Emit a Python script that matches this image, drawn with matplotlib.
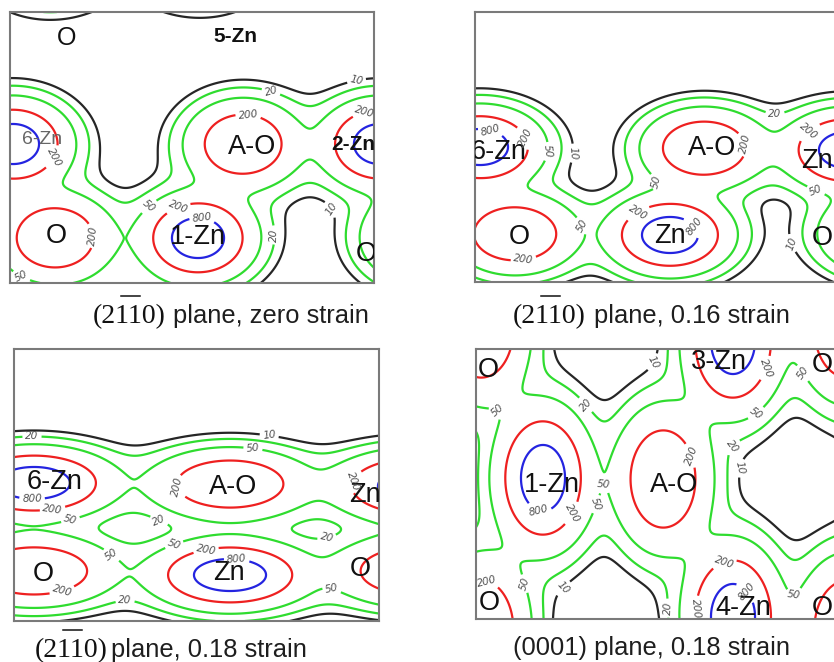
import numpy as np
import matplotlib
matplotlib.use("Agg")
import matplotlib.pyplot as plt
from matplotlib.lines import Line2D
from matplotlib.font_manager import FontProperties

# ---- contour levels (charge density) ----
LEVELS = [10, 20, 50, 200, 800]
LEVEL_COLORS = ['#262626', '#2fdc2f', '#2fdc2f', '#ee2020', '#2424e0']

# ---- radial density profile per species: peak, decay length, core flattening ----
SPECIES_PEAK = {'Zn': 3800.0, 'O': 700.0}
SPECIES_DECAY = {'Zn': 10.0, 'O': 9.0}
SPECIES_CORE = {'Zn': 5.0, 'O': 32.0}

# ---- panel 1: (2-1-10) plane, zero strain ----
P1_SPECIES = ['Zn', 'O', 'Zn', 'O', 'Zn', 'O', 'O', 'Zn', 'Zn', 'O']
P1_X = [3, 233, 370, 45, 188, 410, -134, 40, 190, 116]
P1_Y = [132, 132, 132, 226, 226, 226, 132, -58, -60, 335]
P1_STRETCH = (1.3, 1.0)
P1_HALO = (4.0, 45.0)
P1_ATOM_TEXT = ['O', '5-Zn', '6-Zn', 'A-O', '2-Zn', 'O', '1-Zn', 'O']
P1_ATOM_X = [57, 225, 32, 242, 343, 46, 188, 356]
P1_ATOM_Y = [26, 25, 128, 135, 133, 224, 225, 242]
P1_LABEL_POS = [(347, 71), (260, 83), (238, 105), (355, 101), (43, 145), (142, 198),
                (168, 195), (192, 207), (88, 223), (263, 223), (327, 193), (12, 263)]

# ---- panel 2: (2-1-10) plane, 0.16 strain ----
P2_SPECIES = ['Zn', 'O', 'Zn', 'O', 'Zn', 'O', 'O', 'Zn', 'Zn']
P2_X = [5, 229, 372, 40, 195, 407, -138, 5, 215]
P2_Y = [135, 136, 138, 222, 223, 222, 136, -60, -63]
P2_STRETCH = (1.4, 0.9)
P2_HALO = (2.5, 45.0)
P2_ATOM_TEXT = ['6-Zn', 'A-O', 'Zn', 'O', 'Zn', 'O']
P2_ATOM_X = [24, 237, 342, 44, 195, 347]
P2_ATOM_Y = [140, 136, 149, 225, 224, 226]
P2_LABEL_POS = [(15, 121), (55, 123), (76, 140), (117, 143), (300, 103), (275, 131),
                (337, 123), (185, 168), (342, 176), (113, 210), (163, 201), (222, 212),
                (48, 244), (312, 233)]

# ---- panel 3: (2-1-10) plane, 0.18 strain ----
P3_SPECIES = ['Zn', 'O', 'Zn', 'O', 'Zn', 'O', 'O', 'Zn']
P3_X = [20, 216, 400, 20, 216, 400, -164, -164]
P3_Y = [134, 135, 137, 222, 226, 222, 135, 226]
P3_STRETCH = (1.8, 0.8)
P3_HALO = (2.5, 50.0)
P3_ATOM_TEXT = ['6-Zn', 'A-O', 'Zn', 'O', 'Zn', 'O']
P3_ATOM_X = [41, 219, 351, 29, 215, 346]
P3_ATOM_Y = [133, 138, 146, 225, 224, 220]
P3_LABEL_POS = [(18, 88), (256, 81), (239, 99), (328, 127), (163, 138), (18, 153),
                (39, 163), (56, 169), (144, 174), (314, 194), (161, 198), (191, 196),
                (223, 207), (96, 208), (321, 227), (49, 245), (111, 249)]

# ---- panel 4: (0001) plane, 0.18 strain ----
P4_SPECIES = ['Zn', 'Zn', 'Zn', 'Zn', 'Zn', 'Zn', 'O', 'O', 'O', 'O', 'O', 'O', 'O']
P4_X = [67, 257, 257, 447, -123, -123, 187, 5, 5, 371, 371, -193, 563]
P4_Y = [129, -8, 268, 129, -8, 268, 130, -20, 280, -20, 280, 130, 130]
P4_STRETCH = (1.1, 1.65)
P4_HALO = (3.0, 45.0)
P4_ATOM_TEXT = ['O', '3-Zn', 'O', '1-Zn', 'A-O', 'O', '4-Zn', 'O']
P4_ATOM_X = [12, 243, 346, 76, 198, 13, 267, 346]
P4_ATOM_Y = [21, 13, 16, 136, 136, 254, 259, 259]
P4_LABEL_POS = [(177, 13), (24, 59), (106, 59), (287, 18), (327, 24), (274, 56),
                (252, 94), (264, 119), (216, 106), (129, 131), (117, 154), (62, 166),
                (99, 166), (244, 201), (12, 228), (44, 236), (84, 236), (269, 244),
                (196, 259), (217, 259), (321, 259)]

FIG_W, FIG_H = 834, 662


def density(species, xs, ys, stretch, halo, X, Y):
    sx, sy = stretch
    h_amp, h_w = halo
    rho = np.zeros_like(X)
    for sp, x0, y0 in zip(species, xs, ys):
        d = np.hypot((X - x0) / sx, (Y - y0) / sy)
        c = SPECIES_CORE[sp]
        rho += SPECIES_PEAK[sp] * np.exp(-(np.sqrt(d ** 2 + c ** 2) - c) / SPECIES_DECAY[sp])
        rho += h_amp * np.exp(-0.5 * (d / h_w) ** 2)
    return rho


def panel(fig, box, species, xs, ys, stretch, halo, texts, tx, ty, label_pos,
          text_styles=None):
    left, top, w, h = box
    ax = fig.add_axes([left / FIG_W, 1 - (top + h) / FIG_H, w / FIG_W, h / FIG_H])
    gx = np.arange(0, w + 1, 1.0)
    gy = np.arange(0, h + 1, 1.0)
    X, Y = np.meshgrid(gx, gy)
    Z = density(species, xs, ys, stretch, halo, X, Y)
    cs = ax.contour(X, Y, Z, levels=LEVELS, colors=LEVEL_COLORS, linewidths=1.6)
    labels = ax.clabel(cs, LEVELS, manual=label_pos, inline=True, inline_spacing=3,
                       fmt='%d', fontsize=7.5, colors='#505050')
    for t in labels:
        t.set_fontstyle('italic')
    for i, (s, x, y) in enumerate(zip(texts, tx, ty)):
        kw = dict(fontsize=19.5, color='#111111', family='Liberation Sans')
        if text_styles and i in text_styles:
            kw.update(text_styles[i])
        ax.text(x, y, s, ha='center', va='center', clip_on=True, **kw)
    ax.set_xlim(0, w)
    ax.set_ylim(h, 0)
    ax.set_xticks([])
    ax.set_yticks([])
    for sp in ax.spines.values():
        sp.set_color('#7a7a7a')
        sp.set_linewidth(1.5)
    return ax


fig = plt.figure(figsize=(FIG_W / 100, FIG_H / 100), dpi=100)
fig.patch.set_facecolor('white')

panel(fig, (10, 12, 364, 271), P1_SPECIES, P1_X, P1_Y, P1_STRETCH, P1_HALO,
      P1_ATOM_TEXT, P1_ATOM_X, P1_ATOM_Y, P1_LABEL_POS,
      text_styles={0: dict(fontsize=18), 1: dict(fontsize=15, fontweight='bold'),
                   2: dict(fontsize=14, color='#666666'),
                   4: dict(fontsize=15, fontweight='bold')})
panel(fig, (475, 12, 364, 270), P2_SPECIES, P2_X, P2_Y, P2_STRETCH, P2_HALO,
      P2_ATOM_TEXT, P2_ATOM_X, P2_ATOM_Y, P2_LABEL_POS)
panel(fig, (14, 349, 365, 272), P3_SPECIES, P3_X, P3_Y, P3_STRETCH, P3_HALO,
      P3_ATOM_TEXT, P3_ATOM_X, P3_ATOM_Y, P3_LABEL_POS)
panel(fig, (476, 349, 364, 270), P4_SPECIES, P4_X, P4_Y, P4_STRETCH, P4_HALO,
      P4_ATOM_TEXT, P4_ATOM_X, P4_ATOM_Y, P4_LABEL_POS)

# ---- captions: Miller index in serif with a bar over the "11" ----
SERIF = FontProperties(family='Liberation Serif', size=20)
renderer = fig.canvas.get_renderer()
bar_start = renderer.get_text_width_height_descent('(2', SERIF, ismath=False)[0]
bar_end = renderer.get_text_width_height_descent('(211', SERIF, ismath=False)[0]

CAPTIONS = [(93, 173, 323, 'plane, zero strain'),
            (513, 594, 323, 'plane, 0.16 strain'),
            (35, 111, 657, 'plane, 0.18 strain')]
for xm, xs_, yb, txt in CAPTIONS:
    fig.text(xm / FIG_W, 1 - yb / FIG_H, '(2110)', fontproperties=SERIF,
             color='#111111', ha='left', va='baseline')
    yb_bar = 1 - (yb - 27) / FIG_H
    fig.add_artist(Line2D([(xm + bar_start + 5) / FIG_W, (xm + bar_end - 3) / FIG_W],
                          [yb_bar, yb_bar], transform=fig.transFigure,
                          color='#111111', linewidth=1.1))
    fig.text(xs_ / FIG_W, 1 - yb / FIG_H, txt, fontsize=18.4, color='#1e1e1e',
             family='Liberation Sans', ha='left', va='baseline')
fig.text(513 / FIG_W, 1 - 655 / FIG_H, '(0001) plane, 0.18 strain', fontsize=18.4,
         color='#1e1e1e', family='Liberation Sans', ha='left', va='baseline')

fig.savefig('out.png', dpi=100, facecolor='white')
